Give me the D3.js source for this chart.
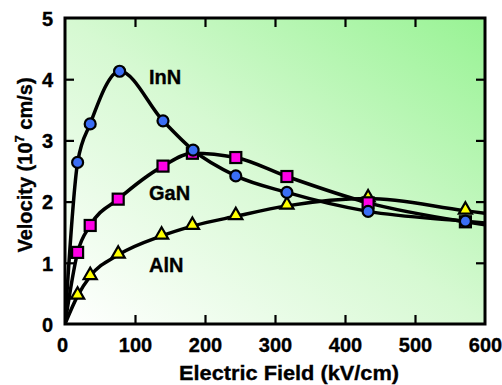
<!DOCTYPE html>
<html>
<head>
<meta charset="utf-8">
<script src="https://cdn.jsdelivr.net/npm/d3@7"></script>
<style>
  body { margin: 0; background: #fff; }
  text { font-family: "Liberation Sans", Arial, sans-serif; font-weight: bold; fill: #000; stroke: #000; stroke-width: 0.35px; }
</style>
</head>
<body>
<div id="chart"></div>
<script>
// data (field in kV/cm, velocity in 1e7 cm/s)
const fieldInN = [18, 36, 78, 140, 183, 244, 317, 433, 572];
const velInN = [2.64, 3.27, 4.13, 3.32, 2.84, 2.42, 2.15, 1.84, 1.68];

const fieldGaN = [18, 36, 76, 140, 182, 244, 317, 433, 572];
const velGaN = [1.17, 1.61, 2.04, 2.58, 2.79, 2.72, 2.41, 1.98, 1.67];

const fieldAlN = [18, 36, 76, 138, 182, 244, 317, 433, 572];
const velAlN = [0.46, 0.78, 1.13, 1.44, 1.60, 1.76, 1.93, 2.05, 1.85];

// curve ends: [velocity at 0, velocity at 600]
const endsInN = [0, 1.65];
const endsGaN = [0, 1.62];
const endsAlN = [0, 1.81];

const xTicks = [0, 100, 200, 300, 400, 500, 600];
const yTicks = [0, 1, 2, 3, 4, 5];

const width = 502;
const height = 385;
const margin = { top: 18, right: 17, bottom: 61, left: 65 };

const svg = d3.select("#chart")
    .append("svg")
    .attr("width", width)
    .attr("height", height);

const x = d3.scaleLinear().domain([0, 600]).range([margin.left, width - margin.right]);
const y = d3.scaleLinear().domain([0, 5]).range([height - margin.bottom, margin.top]);

// background gradient, white bottom-left to green top-right
const defs = svg.append("defs");
const grad = defs.append("linearGradient")
    .attr("id", "bg")
    .attr("x1", 0).attr("y1", 1)
    .attr("x2", 1).attr("y2", 0);
grad.append("stop").attr("offset", "0%").attr("stop-color", "#ffffff");
grad.append("stop").attr("offset", "50%").attr("stop-color", "#d6f9d2");
grad.append("stop").attr("offset", "100%").attr("stop-color", "#98f394");

defs.append("clipPath").attr("id", "clip")
    .append("rect")
    .attr("x", x(0)).attr("y", y(5))
    .attr("width", x(600) - x(0)).attr("height", y(0) - y(5));

svg.append("rect")
    .attr("x", x(0)).attr("y", y(5))
    .attr("width", x(600) - x(0))
    .attr("height", y(0) - y(5))
    .style("fill", "url(#bg)");

// ticks on all four sides, pointing in
const tickLen = 9;
const fmt = d3.format("d");
const bottomAxis = d3.axisBottom(x).tickValues(xTicks).tickFormat(fmt).tickSize(-tickLen).tickPadding(14);
const topAxis = d3.axisTop(x).tickValues(xTicks).tickSize(-tickLen).tickFormat("");
const leftAxis = d3.axisLeft(y).tickValues(yTicks).tickFormat(fmt).tickSize(-tickLen).tickPadding(12);
const rightAxis = d3.axisRight(y).tickValues(yTicks).tickSize(-tickLen).tickFormat("");

const gb = svg.append("g").attr("transform", `translate(0,${y(0)})`).call(bottomAxis);
const gt = svg.append("g").attr("transform", `translate(0,${y(5)})`).call(topAxis);
const gl = svg.append("g").attr("transform", `translate(${x(0)},0)`).call(leftAxis);
const gr = svg.append("g").attr("transform", `translate(${x(600)},0)`).call(rightAxis);

[gb, gt, gl, gr].forEach(g => {
    g.select(".domain").remove();
    g.selectAll(".tick line").style("stroke", "#000").style("stroke-width", 2.2);
    g.selectAll("text").style("font-size", "20px").style("font-family", "Liberation Sans, Arial, sans-serif");
});
gb.selectAll(".tick").filter(d => d === 0 || d === 600).select("line").remove();
gt.selectAll(".tick").filter(d => d === 0 || d === 600).select("line").remove();
gl.selectAll(".tick").filter(d => d === 0 || d === 5).select("line").remove();
gr.selectAll(".tick").filter(d => d === 0 || d === 5).select("line").remove();
gb.selectAll(".tick").filter(d => d === 0).select("text").attr("dx", -3);
gl.selectAll("text").attr("dy", "0.36em");

// curves
const line = d3.line()
    .x(d => x(d[0]))
    .y(d => y(d[1]))
    .curve(d3.curveMonotoneX);

function curvePoints(fs, vs, ends) {
    const pts = fs.map((f, i) => [f, vs[i]]);
    return [[0, ends[0]]].concat(pts, [[600, ends[1]]]);
}

const curves = svg.append("g").attr("clip-path", "url(#clip)");
[
    curvePoints(fieldAlN, velAlN, endsAlN),
    curvePoints(fieldGaN, velGaN, endsGaN),
    curvePoints(fieldInN, velInN, endsInN)
].forEach(pts => {
    curves.append("path")
        .datum(pts)
        .attr("d", line)
        .style("fill", "none")
        .style("stroke", "#000")
        .style("stroke-width", 3.5);
});

// markers
svg.append("g")
    .selectAll("path")
    .data(fieldAlN.map((f, i) => [f, velAlN[i]]))
    .enter()
    .append("path")
    .attr("d", d3.symbol().type(d3.symbolTriangle).size(75))
    .attr("transform", d => `translate(${x(d[0])},${y(d[1]) - 1})`)
    .style("fill", "#ffff00")
    .style("stroke", "#000")
    .style("stroke-width", 2.2);

svg.append("g")
    .selectAll("rect")
    .data(fieldGaN.map((f, i) => [f, velGaN[i]]))
    .enter()
    .append("rect")
    .attr("x", d => x(d[0]) - 5.5)
    .attr("y", d => y(d[1]) - 5.5)
    .attr("width", 11)
    .attr("height", 11)
    .style("fill", "#ff00e6")
    .style("stroke", "#000")
    .style("stroke-width", 2.2);

svg.append("g")
    .selectAll("circle")
    .data(fieldInN.map((f, i) => [f, velInN[i]]))
    .enter()
    .append("circle")
    .attr("cx", d => x(d[0]))
    .attr("cy", d => y(d[1]))
    .attr("r", 5.5)
    .style("fill", "#3a6ef5")
    .style("stroke", "#000")
    .style("stroke-width", 2.2);

// frame
svg.append("rect")
    .attr("x", x(0)).attr("y", y(5))
    .attr("width", x(600) - x(0))
    .attr("height", y(0) - y(5))
    .style("fill", "none")
    .style("stroke", "#000")
    .style("stroke-width", 3);

// material labels
svg.append("text").attr("x", 149).attr("y", 84).style("font-size", "20px").text("InN");
svg.append("text").attr("x", 149).attr("y", 200).style("font-size", "20px").text("GaN");
svg.append("text").attr("x", 149).attr("y", 272).style("font-size", "20px").text("AlN");

// axis titles
svg.append("text")
    .attr("x", 289).attr("y", 380)
    .attr("text-anchor", "middle")
    .attr("textLength", 220)
    .attr("lengthAdjust", "spacingAndGlyphs")
    .style("font-size", "21px")
    .text("Electric Field (kV/cm)");

const yt = svg.append("text")
    .attr("transform", "translate(32,165) rotate(-90)")
    .attr("text-anchor", "middle")
    .style("font-size", "20px");
yt.append("tspan").text("Velocity (10");
yt.append("tspan").attr("dy", -8).style("font-size", "13px").text("7");
yt.append("tspan").attr("dy", 8).text(" cm/s)");
</script>
</body>
</html>
